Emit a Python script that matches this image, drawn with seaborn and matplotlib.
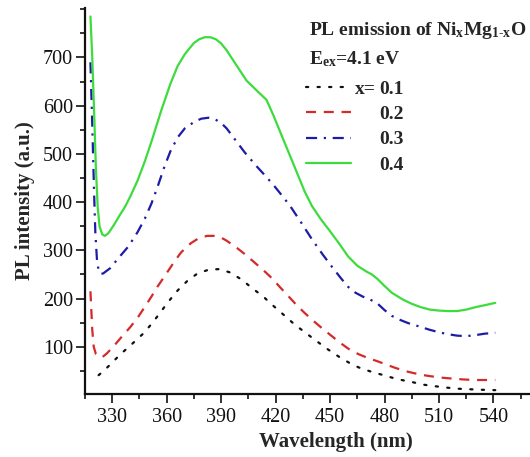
import matplotlib
matplotlib.use("Agg")
import matplotlib.pyplot as plt
import seaborn as sns
import numpy as np

# ---------------- data ----------------
wl_01 = [322.5, 325, 328.9, 334.4, 340.7, 347, 351.6, 356.1, 360.6, 366.1, 371.5, 377, 383.3,
         389, 395, 401.4, 406.9, 413.2, 418.7, 425.1, 430.5, 436.8, 443.2, 448.6, 455, 460.4,
         465.8, 472, 478.5, 484, 489.4, 496, 502, 508, 514.8, 520, 525.7, 532, 538.4, 541]
pl_01 = [41, 49, 63, 84, 105, 127, 147, 169, 192, 217, 237, 252, 260,
         261, 254, 239, 222, 204, 185, 164, 146, 128, 110, 95, 79, 67,
         57, 49, 42, 36, 31, 26, 21, 18, 15, 13, 12, 11, 10, 10]

wl_02 = [318, 318.5, 319, 319.8, 321, 322.5, 324.4, 327, 331, 335.3, 340, 344.3, 348, 351.6,
         355, 358.8, 364.3, 368, 373.4, 378, 382.4, 386, 389.7, 393, 398, 402.4, 408, 413.2,
         418, 422.3, 427, 431.4, 436, 440.4, 446, 451.3, 456, 460.4, 466, 471.3, 476, 480.3,
         486, 493, 500, 505, 511, 517, 524, 530, 541]
pl_02 = [215, 175, 135, 100, 85, 80, 78, 86, 102, 121, 141, 162, 183, 204,
         225, 246, 277, 296, 315, 326, 330, 330, 327, 320, 307, 294, 276, 259,
         242, 224, 205, 187, 170, 155, 137, 121, 107, 95, 84, 76, 70, 64,
         56, 48, 42, 39, 36, 34, 32, 31, 31]

wl_03 = [318, 319, 320, 320.7, 321.6, 322.5, 323.5, 325, 328.9, 333, 338.9, 344, 348, 351.6,
         355, 358.8, 362, 366, 370, 375, 379, 383, 387, 390, 393, 397, 403, 409.6, 414,
         418.7, 423, 428, 434, 440, 446, 451, 456, 460, 464, 468, 472, 476, 480, 484, 489,
         493, 500, 505, 510, 515, 520, 525, 530, 535, 541]
pl_03 = [690, 560, 420, 336, 280, 258, 251, 252, 263, 282, 308, 338, 366, 397,
         432, 474, 505, 534, 553, 566, 573, 575, 571, 564, 553, 533, 503, 474, 456,
         436, 416, 392, 358, 323, 291, 266, 242, 224, 212, 204, 198, 190, 176, 164, 155,
         149, 141, 135, 130, 126, 123, 122, 124, 127, 129]

wl_04 = [318, 319, 320, 321, 322, 323, 324.5, 326, 328, 331, 334, 337, 340, 344, 348, 352,
         357, 362, 366, 370, 375, 378, 381, 384, 387, 390, 393, 397, 404, 410, 415, 419,
         424, 431, 436, 440, 445, 449.5, 455, 460, 465, 470, 473, 476, 480, 484, 490, 495,
         500, 505, 510, 515, 520, 525, 530, 535, 541]
pl_04 = [785, 700, 590, 470, 390, 350, 333, 330, 336, 353, 372, 390, 412, 445, 485, 530,
         590, 645, 682, 707, 730, 738, 742, 742, 738, 729, 715, 692, 652, 630, 612, 578,
         532, 468, 422, 392, 364, 342, 314, 287, 268, 256, 250, 241, 226, 212, 198, 189,
         182, 177, 175, 174, 174, 177, 182, 186, 191]

series_labels = ["0.1", "0.2", "0.3", "0.4"]
series_colors = ["#111111", "#d42a2a", "#1c1ca6", "#3ddc3d"]
series_styles = [(0, (1, 4.2)), (0, (4.5, 3.5)), (0, (5, 3, 1, 3)), "-"]

x_ticks = [330, 360, 390, 420, 450, 480, 510, 540, 570]
y_ticks = [100, 200, 300, 400, 500, 600, 700]

# ---------------- style ----------------
sns.set_style("ticks")
plt.rcParams["font.family"] = ["Liberation Serif", "DejaVu Serif"]
plt.rcParams["mathtext.fontset"] = "custom"
plt.rcParams["mathtext.rm"] = "Liberation Serif:bold"
plt.rcParams["mathtext.it"] = "Liberation Serif:bold"
plt.rcParams["mathtext.bf"] = "Liberation Serif:bold"

W, H = 530, 457
fig = plt.figure(figsize=(W / 100, H / 100), dpi=100)
ax = fig.add_axes([85 / W, 1 - 393.5 / H, (557 - 85) / W, (393.5 - 8.3) / H])

xs = [wl_01, wl_02, wl_03, wl_04]
ys = [pl_01, pl_02, pl_03, pl_04]
for x, y, lab, c, ls in zip(xs, ys, series_labels, series_colors, series_styles):
    sns.lineplot(x=x, y=y, ax=ax, color=c, linestyle=ls, linewidth=1.6,
                 estimator=None, sort=False, label=lab, legend=False)
lines = ax.get_lines()
for ln in lines:
    ln.set_solid_joinstyle("round")
    ln.set_dash_joinstyle("round")
lines[0].set_dash_capstyle("round")

ax.set_xlim(318, 575)
ax.set_ylim(3, 802)
ax.set_xticks(x_ticks)
ax.set_yticks(y_ticks)
ax.set_xticks(np.arange(315, 576, 15), minor=True)
ax.set_yticks(np.arange(50, 801, 50), minor=True)
for s in ["top", "right"]:
    ax.spines[s].set_visible(False)
for s in ["left", "bottom"]:
    ax.spines[s].set_linewidth(1.6)
    ax.spines[s].set_color("#111111")
ax.tick_params(axis="both", which="major", direction="out", length=6.5, width=1.2,
               labelsize=14.5, colors="#111111")
ax.tick_params(axis="both", which="minor", direction="out", length=3.5, width=1.2,
               colors="#111111")
ax.tick_params(axis="x", which="major", pad=4)
ax.tick_params(axis="y", which="major", pad=2)

ax.set_xlabel("Wavelength (nm)", fontsize=15, fontweight="bold")
ax.set_ylabel("PL intensity (a.u.)", fontsize=15, fontweight="bold", labelpad=6)
ax.xaxis.set_label_coords((335.5 - 85) / (557 - 85), -(432 - 393.5) / (393.5 - 8.3))

# title / annotation texts
fig.text(309 / W, 1 - 35 / H,
         "PL emission of Ni$_\\mathregular{x}$Mg$_\\mathregular{1\\text{-}x}$O",
         fontsize=14, fontweight="bold", ha="left", va="baseline")
fig.text(309 / W, 1 - 64 / H, "E$_\\mathregular{ex}$=4.1 eV",
         fontsize=14, fontweight="bold", ha="left", va="baseline")

leg = ax.legend(lines, series_labels, loc="upper left",
                bbox_to_anchor=(306 / W, 1 - 80 / H), bbox_transform=fig.transFigure,
                frameon=False, prop={"weight": "bold", "size": 14},
                handlelength=2.3, handletextpad=1.45, labelspacing=0.4, borderpad=0,
                borderaxespad=0)
fig.canvas.draw()
t0 = leg.get_texts()[0]
bb = t0.get_window_extent()
fig.text(355 / W, (bb.y0 + bb.y1) / 2 / H, "x=", fontsize=14, fontweight="bold",
         ha="left", va="center")

fig.savefig("out.png", dpi=100)
